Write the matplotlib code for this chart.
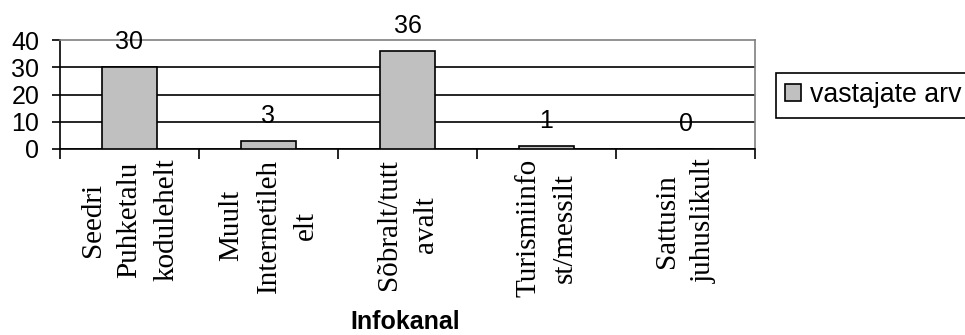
import matplotlib
matplotlib.use("Agg")
import matplotlib.pyplot as plt
import numpy as np

# survey answers per info channel
kanalid = [
    "Seedri\nPuhketalu\nkodulehelt",
    "Muult\nInternetileh\nelt",
    "Sõbralt/tutt\navalt",
    "Turismiinfo\nst/messilt",
    "Sattusin\njuhuslikult",
]
vastajate_arv = [30, 3, 36, 1, 0]
y_ticks = [0, 10, 20, 30, 40]
seeria = "vastajate arv"
telje_nimi = "Infokanal"

sans = "Liberation Sans"
serif = "Liberation Serif"

fig = plt.figure(figsize=(9.65, 3.35), dpi=100)
ax = fig.add_axes([60 / 965, 1 - 149 / 335, 695 / 965, 109 / 335])

x = np.arange(len(kanalid))
bars = ax.bar(x, vastajate_arv, width=0.40, color="#c0c0c0",
              edgecolor="black", linewidth=1.2, label=seeria, zorder=3)

for xi, v in zip(x, vastajate_arv):
    ax.annotate(str(v), (xi, v), xytext=(0, 18), textcoords="offset points",
                ha="center", va="center", fontsize=18, family=sans,
                annotation_clip=False, zorder=4)

ax.set_xlim(-0.5, len(kanalid) - 0.5)
ax.set_ylim(y_ticks[0], y_ticks[-1])
ax.set_yticks(y_ticks)
ax.set_yticklabels([str(t) for t in y_ticks], fontsize=18, family=sans)
ax.tick_params(axis="y", direction="out", length=6, width=1.2, pad=9)

# category labels centred, boundary ticks as minor ticks
ax.set_xticks(x)
ax.set_xticklabels(kanalid, rotation=90, fontsize=21, family=serif,
                   ha="center", va="top", multialignment="center",
                   linespacing=1.55)
ax.tick_params(axis="x", which="major", length=0, pad=7)
ax.set_xticks(np.arange(len(kanalid) + 1) - 0.5, minor=True)
ax.tick_params(axis="x", which="minor", direction="out", length=7, width=1.2)

ax.yaxis.grid(True, color="black", linewidth=1.2)
ax.set_axisbelow(True)
ax.get_ygridlines()[-1].set_visible(False)

for side in ("left", "bottom"):
    ax.spines[side].set_color("black")
    ax.spines[side].set_linewidth(1.2)
for side in ("top", "right"):
    ax.spines[side].set_color("#808080")
    ax.spines[side].set_linewidth(1.2)

ax.set_xlabel(telje_nimi, fontsize=18, family=sans, fontweight="bold",
              va="center")
ax.xaxis.set_label_coords(0.497, (149 - 322) / 109)

leg = fig.legend(handles=[bars], labels=[seeria], loc="upper left",
                 bbox_to_anchor=(776 / 965, 1 - 73 / 335),
                 prop={"family": sans, "size": 19.3}, frameon=True,
                 fancybox=False, edgecolor="black", framealpha=1,
                 borderaxespad=0, borderpad=0.35, handlelength=0.6,
                 handleheight=0.6, handletextpad=0.3)
leg.get_frame().set_linewidth(1.2)

fig.savefig("out.png", dpi=100)
